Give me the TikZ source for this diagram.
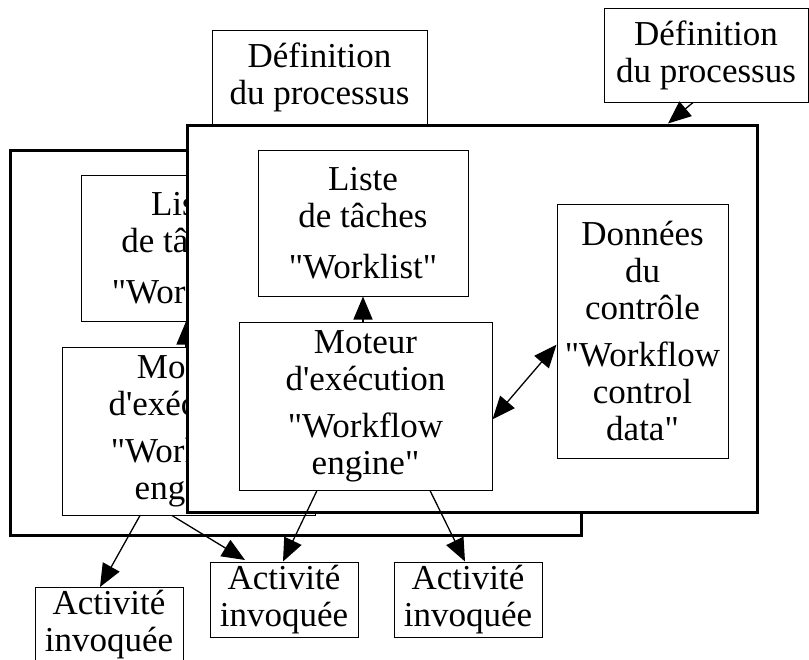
\documentclass[tikz,border=0pt]{standalone}
\usepackage{fontspec}
\setmainfont{Liberation Serif}[Ligatures=TeXOff]
\usetikzlibrary{arrows.meta}
\begin{document}
\begin{tikzpicture}[x=1pt,y=-1pt,
  boite/.style={draw,line width=1pt,fill=white,inner sep=0pt,align=center,
    font=\fontsize{35}{37}\selectfont},
  cadre/.style={draw,line width=3pt,fill=white,inner sep=0pt},
  fleche/.style={line width=1.3pt,-{Triangle[length=23pt,width=19pt]}},
  fleche2/.style={line width=1.3pt,{Triangle[length=23pt,width=19pt]}-{Triangle[length=23pt,width=19pt]}}]
\clip (0,0) rectangle (809,659);

% moteur en arriere-plan
\node[cadre,minimum width=571pt,minimum height=385pt] (cadreB) at (295.5,342.5) {};
\node[boite,minimum width=210pt,minimum height=146pt] (listeB) at (186,248)
  {Liste\\de tâches\\[14pt]"Worklist"};
\node[boite,minimum width=253pt,minimum height=168pt] (moteurB) at (188.5,431)
  {Moteur\\d'exécution\\[10pt]"Workflow\\engine"};
\draw[fleche] (moteurB.north -| listeB.south) -- (listeB.south);
\draw[fleche] ([xshift=-48.5pt]moteurB.south) -- (100,587) coordinate (a1);
\draw[fleche] ([xshift=-16.5pt]moteurB.south) -- (245,560) coordinate (a2);

% moteur au premier plan
\node[boite,minimum width=215pt,minimum height=95pt] (defA) at (319.5,77.5)
  {Définition\\du processus};
\node[cadre,minimum width=570pt,minimum height=387pt] (cadreF) at (472,318.5) {};
\node[boite,minimum width=210pt,minimum height=146pt] (listeF) at (363,223)
  {Liste\\de tâches\\[14pt]"Worklist"};
\node[boite,minimum width=253pt,minimum height=168pt] (moteurF) at (365.5,406)
  {Moteur\\d'exécution\\[10pt]"Workflow\\engine"};
\node[boite,minimum width=171pt,minimum height=254pt] (donnees) at (642.5,331)
  {Données\\du\\contrôle\\[10pt]"Workflow\\control\\data"};
\node[boite,minimum width=204pt,minimum height=94pt] (defB) at (706,55)
  {Définition\\du processus};

\draw[fleche] (moteurF.north -| listeF.south) -- (listeF.south);
\draw[fleche2] (moteurF.-6) -- (donnees.189);
\draw[fleche] ([xshift=-13pt]defB.south) -- ([xshift=196pt]cadreF.north);

% activites invoquees
\node[boite,minimum width=148pt,minimum height=75pt] (act1) at (109,624.5)
  {Activité\\invoquée};
\node[boite,minimum width=148pt,minimum height=75pt] (act2) at (284,599.5)
  {Activité\\invoquée};
\node[boite,minimum width=148pt,minimum height=75pt] (act3) at (468,599.5)
  {Activité\\invoquée};

\draw[fleche] ([xshift=-48.5pt]moteurF.south) -- ([xshift=-1pt]act2.north);
\draw[fleche] ([xshift=64.5pt]moteurF.south) -- ([xshift=-3pt]act3.north);
\end{tikzpicture}
\end{document}
